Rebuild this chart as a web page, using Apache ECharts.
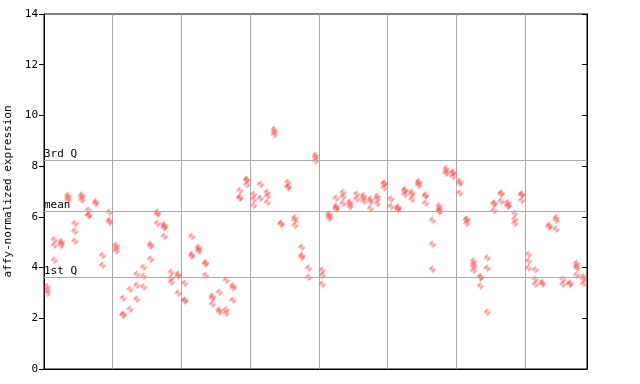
<!DOCTYPE html>
<html>
<head>
<meta charset="utf-8">
<script src="https://cdn.jsdelivr.net/npm/echarts@6/dist/echarts.min.js"></script>
<style>html,body{margin:0;padding:0;background:#fff}#c{width:640px;height:384px}</style>
</head>
<body>
<div id="c"></div>
<script>
// Sample columns (79), each with the replicate values
var columnValues = [
  [3.25, 3.12, 2.99], [5.1, 4.88, 4.29], [5.03, 4.96, 4.88], [6.84, 6.75, 6.66], [5.74, 5.43, 5.04],
  [6.86, 6.78, 6.66], [6.27, 6.08, 6.05], [6.6, 6.52], [4.48, 4.09], [6.18, 5.86, 5.78],
  [4.88, 4.77, 4.65], [2.79, 2.16, 2.12], [3.15, 2.36], [3.74, 3.3, 2.75], [4.01, 3.66, 3.23],
  [4.92, 4.84, 4.33], [6.18, 6.1, 5.74], [5.69, 5.62, 5.57, 5.23], [3.82, 3.58, 3.42], [3.74, 3.66, 2.99],
  [3.38, 2.72, 2.68], [5.23, 4.52, 4.45], [4.8, 4.72, 4.64], [4.19, 4.14, 3.69], [2.87, 2.79, 2.56],
  [3.03, 2.33, 2.25], [3.5, 2.34, 2.2], [3.28, 3.19, 2.71], [7.04, 6.77, 6.73], [7.48, 7.44, 7.28],
  [6.88, 6.69, 6.45], [7.28, 6.73], [6.96, 6.81, 6.57], [9.45, 9.35, 9.24], [5.75, 5.71],
  [7.36, 7.2, 7.16], [5.96, 5.87, 5.66], [4.8, 4.48, 4.41], [3.97, 3.62], [8.43, 8.34, 8.2],
  [3.89, 3.7, 3.34], [6.11, 6.03, 5.95], [6.73, 6.42, 6.35, 6.31], [6.96, 6.79, 6.53], [6.59, 6.5, 6.4],
  [6.89, 6.7], [6.83, 6.73, 6.62], [6.69, 6.61, 6.33], [6.81, 6.7, 6.53], [7.34, 7.3, 7.15],
  [6.7, 6.41], [6.39, 6.33, 6.29], [7.07, 7.02, 6.88], [6.97, 6.88, 6.69], [7.38, 7.33, 7.24],
  [6.86, 6.82, 6.54], [5.87, 4.92, 3.93], [6.44, 6.33, 6.24, 6.2], [7.91, 7.81, 7.71], [7.77, 7.73, 7.59],
  [7.4, 7.32, 6.94], [5.92, 5.88, 5.74], [4.26, 4.14, 4.04, 3.88], [3.64, 3.6, 3.27], [4.38, 3.97, 2.24],
  [6.55, 6.51, 6.25], [6.94, 6.9, 6.62], [6.57, 6.46, 6.42], [6.14, 5.91, 5.74], [6.9, 6.86, 6.65],
  [4.52, 4.25, 3.98], [3.91, 3.54, 3.34], [3.42, 3.34], [5.66, 5.6], [5.96, 5.87, 5.51],
  [3.54, 3.34], [3.38, 3.34], [4.17, 4.06, 3.98, 3.71], [3.64, 3.54, 3.36]
];
var categories = columnValues.map(function (_, i) { return 'S' + (i + 1); });
var refNames = ['3rd Q', 'mean', '1st Q'];
var refValues = [8.23, 6.21, 3.62];
var yTicks = [0, 2, 4, 6, 8, 10, 12, 14];

var points = [];
columnValues.forEach(function (vals, i) {
  vals.forEach(function (v) { points.push([i, v]); });
});

// checker pattern fill for the diamond markers
var pc = document.createElement('canvas');
pc.width = 2; pc.height = 2;
var pctx = pc.getContext('2d');
pctx.fillStyle = '#ff4a4a';
pctx.fillRect(0, 0, 1, 1);
pctx.fillRect(1, 1, 1, 1);

var font = 'DejaVu Sans Mono';
var chart = echarts.init(document.getElementById('c'), null, {renderer: 'canvas'});
chart.setOption({
  animation: false,
  grid: {left: 44, top: 14, width: 543, height: 355, containLabel: false, outerBoundsMode: 'none',
    show: true, borderColor: '#000', borderWidth: 1, backgroundColor: 'transparent'},
  xAxis: {
    type: 'category', data: categories, boundaryGap: true,
    axisLine: {lineStyle: {color: '#000'}},
    axisTick: {show: false}, axisLabel: {show: false},
    splitLine: {show: true, interval: 9, lineStyle: {color: '#aaaaaa', width: 1}}
  },
  yAxis: [{
    type: 'value', min: yTicks[0], max: yTicks[yTicks.length - 1], interval: 2,
    name: 'affy-normalized expression', nameLocation: 'middle', nameGap: 28,
    nameTextStyle: {fontFamily: font, fontSize: 11, color: '#000'},
    axisLine: {show: true, lineStyle: {color: '#000'}},
    axisTick: {show: true, length: 5, lineStyle: {color: '#000'}},
    axisLabel: {fontFamily: font, fontSize: 11, color: '#000', margin: 6},
    splitLine: {show: false}
  }, {
    type: 'value', position: 'right', min: yTicks[0], max: yTicks[yTicks.length - 1], interval: 2,
    axisLine: {show: true, lineStyle: {color: '#000'}},
    axisTick: {show: true, inside: true, length: 5, lineStyle: {color: '#000'}},
    axisLabel: {show: false}, splitLine: {show: false}
  }],
  series: [{
    type: 'scatter',
    data: points,
    symbol: 'diamond',
    symbolSize: 8,
    itemStyle: {color: {image: pc, repeat: 'repeat'}},
    emphasis: {disabled: true},
    markLine: {
      silent: true, symbol: 'none', animation: false,
      lineStyle: {color: '#aaaaaa', width: 1, type: 'solid'},
      label: {position: 'insideStartTop', distance: [0, 1], fontFamily: font, fontSize: 11, color: '#000',
        formatter: function (p) { return p.name; }},
      data: refValues.map(function (v, i) { return {name: refNames[i], yAxis: v}; })
    }
  }]
});
</script>
</body>
</html>
